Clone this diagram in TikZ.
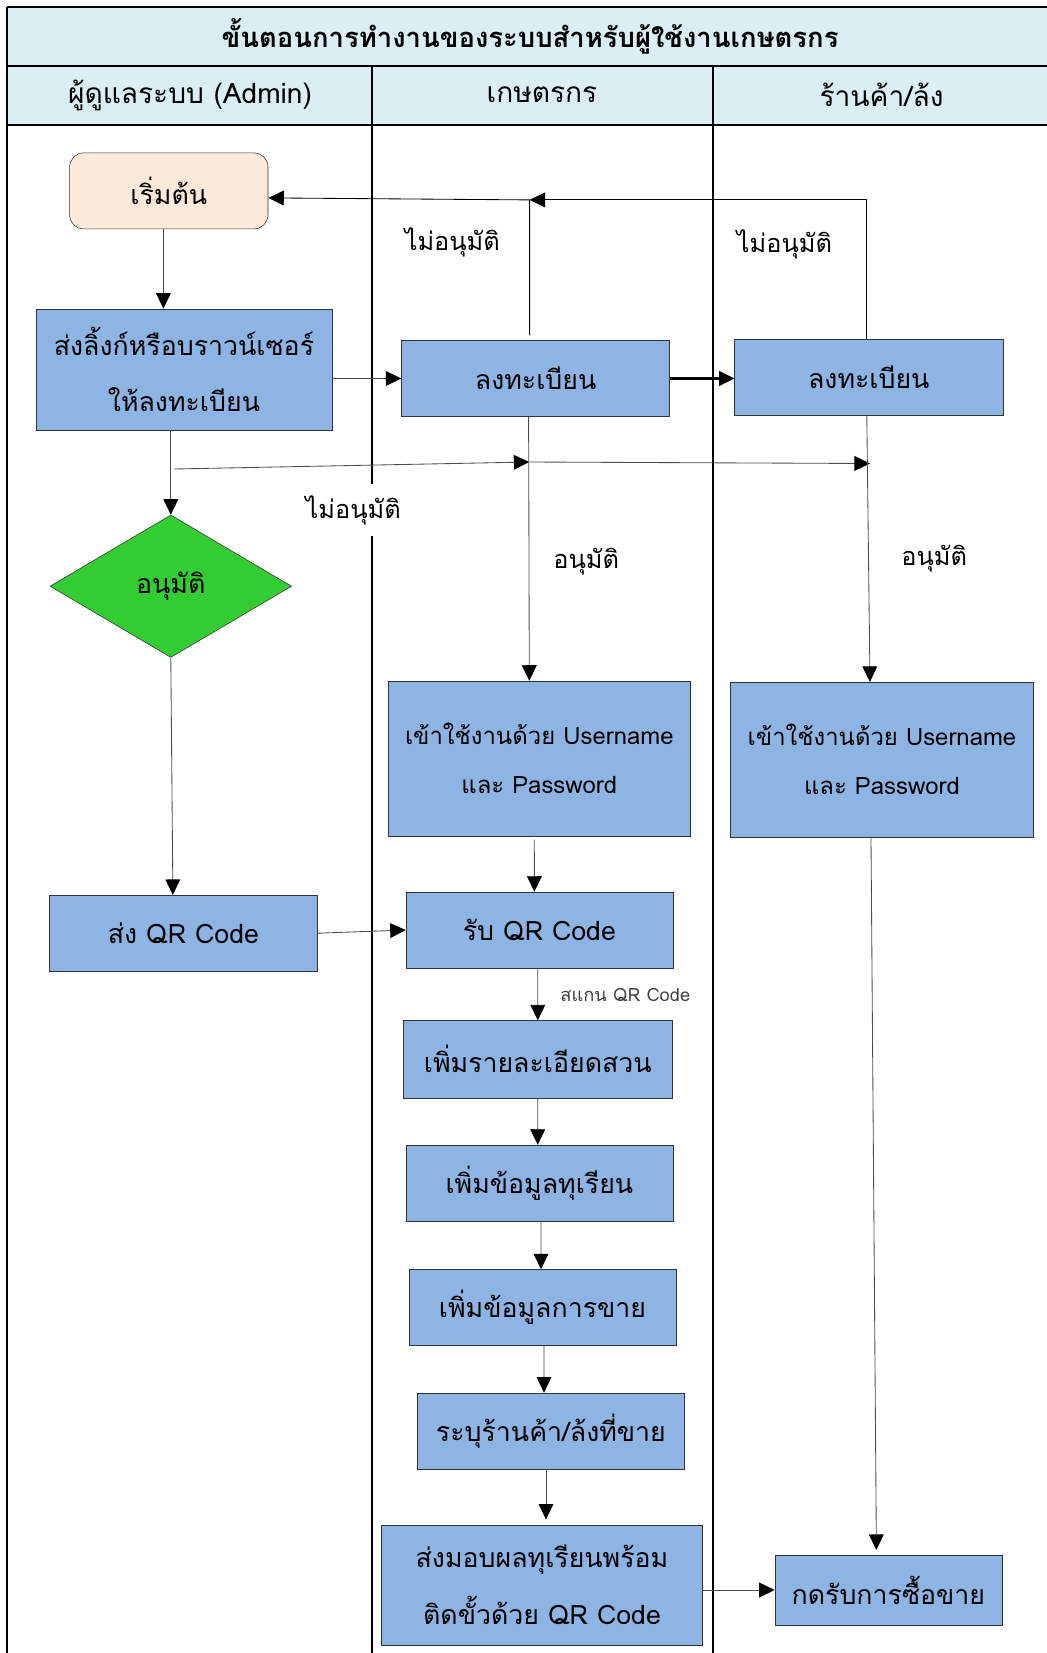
\documentclass[tikz,border=0pt]{standalone}
\usepackage{fontspec}
\setmainfont[Script=Thai]{Loma}
\usetikzlibrary{arrows.meta,calc,shapes.geometric}
\definecolor{headblue}{RGB}{218,238,243}
\definecolor{boxblue}{RGB}{142,180,227}
\definecolor{okgreen}{RGB}{51,204,51}
\definecolor{startpeach}{RGB}{253,233,217}
\def\boxfont{\fontsize{19}{40}\selectfont}
\def\loginfont{\fontsize{17}{35}\selectfont}
\def\notefont{\fontsize{18}{22}\selectfont}
\tikzset{
	flowbox/.style={draw=black!80, fill=boxblue, inner sep=0pt, align=center, font=\boxfont},
	flowarrow/.style={draw=black!70, line width=0.6pt, -{Triangle[length=11pt,width=10.5pt,color=black]}},
	lane/.style={line width=1.5pt},
	note/.style={font=\notefont, inner sep=1pt}
}

\begin{document}
\begin{tikzpicture}[x=0.025cm, y=-0.025cm]
				\useasboundingbox (0,0) rectangle (1047,1653);
				
				% title and lane headers
				\fill[headblue] (7.3,7.3) rectangle (1047,124.7);
				\draw[lane] (7.3,7.3) -- (1047,7.3);
				\draw[lane] (7.3,65.7) -- (1047,65.7);
				\draw[lane] (7.3,124.7) -- (1047,124.7);
				\draw[lane] (7.3,7.3) -- (7.3,1653);
				\draw[lane] (372,65.7) -- (372,1653);
				\draw[lane] (713,65.7) -- (713,1653);
				\node (title) at (530,36) {\fontsize{19.5}{24}\selectfont\bfseries ขั้นตอนการทำงานของระบบสำหรับผู้ใช้งานเกษตรกร};
				\node (hadmin) at (190,95) {\fontsize{20}{24}\selectfont ผู้ดูแลระบบ (Admin)};
				\node (hfarmer) at (542,95) {\fontsize{20}{24}\selectfont เกษตรกร};
				\node (hshop) at (881.5,95) {\fontsize{20}{24}\selectfont ร้านค้า/ล้ง};
				
				% admin lane
				\node[flowbox, fill=startpeach, rounded corners=10pt, minimum width=4.96cm, minimum height=1.9cm] (start) at (168.8,190.9) {เริ่มต้น};
				\node[flowbox, minimum width=7.4cm, minimum height=3.03cm] (link) at (184,369.5) {ส่งลิ้งก์หรือบราวน์เซอร์\\ให้ลงทะเบียน};
				\node[flowbox, diamond, fill=okgreen, minimum width=6.04cm, minimum height=3.56cm] (approve) at (170.8,586.2) {อนุมัติ};
				\node[flowbox, minimum width=6.7cm, minimum height=1.9cm] (sendqr) at (183.5,933.2) {ส่ง QR Code};
				
				% farmer lane
				\node[flowbox, minimum width=6.7cm, minimum height=1.9cm] (regfarmer) at (535.6,378.5) {ลงทะเบียน};
				\node[flowbox, font=\loginfont, minimum width=7.57cm, minimum height=3.88cm] (loginfarmer) at (539.3,758.6) {เข้าใช้งานด้วย Username\\และ Password};
				\node[flowbox, minimum width=6.67cm, minimum height=1.9cm] (recvqr) at (539.4,930) {รับ QR Code};
				\node[flowbox, minimum width=6.7cm, minimum height=1.93cm] (garden) at (537.8,1059.2) {เพิ่มรายละเอียดสวน};
				\node[flowbox, minimum width=6.67cm, minimum height=1.9cm] (durian) at (539.4,1183) {เพิ่มข้อมูลทุเรียน};
				\node[flowbox, minimum width=6.67cm, minimum height=1.9cm] (sale) at (542.5,1307.5) {เพิ่มข้อมูลการขาย};
				\node[flowbox, minimum width=6.67cm, minimum height=1.9cm] (pickshop) at (550.9,1430.9) {ระบุร้านค้า/ล้งที่ขาย};
				\node[flowbox, minimum width=8.01cm, minimum height=3cm] (deliver) at (542,1584.8) {ส่งมอบผลทุเรียนพร้อม\\ติดขั้วด้วย QR Code};
				
				% shop lane
				\node[flowbox, minimum width=6.7cm, minimum height=1.9cm] (regshop) at (868.8,377.5) {ลงทะเบียน};
				\node[flowbox, font=\loginfont, minimum width=7.57cm, minimum height=3.88cm] (loginshop) at (882,759.7) {เข้าใช้งานด้วย Username\\และ Password};
				\node[flowbox, minimum width=5.67cm, minimum height=1.74cm] (accept) at (888.4,1590) {กดรับการซื้อขาย};
				
				% labels
				\node[note] (noa) at (452.3,242.5) {ไม่อนุมัติ};
				\node[note] (nob) at (784.5,244.6) {ไม่อนุมัติ};
				\node[note] (yesa) at (586.2,562) {อนุมัติ};
				\node[note] (yesb) at (934.2,558.8) {อนุมัติ};
				\node[font=\fontsize{13}{16}\selectfont, text=black!75] (scan) at (625.3,995.4) {สแกน QR Code};
				
				% connectors
				\draw[flowarrow] ($(start.south)+(-5.4,0)$) coordinate (s1) -- (s1 |- link.north);
				\draw[flowarrow] (regfarmer.west -| link.east) -- (regfarmer.west);
				\draw[flowarrow, line width=1.6pt, draw=black] (regfarmer.east) -- (regfarmer.east -| regshop.west);
				\coordinate (backjoin) at ($(regfarmer.north |- start.east)+(-6,9)$);
				\draw[flowarrow, draw=black] ($(regfarmer.north)+(-6,-5)$) -- (backjoin) -- ($(start.east)+(0,7)$);
				\draw[flowarrow, draw=black] ($(regshop.north)+(-2,0)$) |- (backjoin);
				\draw[flowarrow] (approve.north |- link.south) -- (approve.north);
				\coordinate (no1) at (174,469);
				\coordinate (no2) at (529.3,462);
				\coordinate (no3) at (869.9,463.5);
				\draw[flowarrow] (no1) -- (no2);
				\draw[flowarrow] (no2) -- (no3);
				\draw[flowarrow] ($(regfarmer.south)+(-7,0)$) -- ($(loginfarmer.north)+(-10,0)$);
				\draw[flowarrow] ($(regshop.south)+(-2,0)$) -- ($(loginshop.north)+(-12,0)$);
				\draw[flowarrow] (approve.south) -- ($(sendqr.north)+(-10.6,0)$);
				\draw[flowarrow] (sendqr.east) -- (recvqr.west);
				\draw[flowarrow] ($(loginfarmer.south)+(-5,3)$) -- ($(recvqr.north)+(-5,0)$);
				\draw[flowarrow] ($(recvqr.south)+(-1.7,0)$) -- ($(garden.north)+(0,0)$);
				\draw[flowarrow] (garden.south) -- ($(durian.north)+(-1.7,0)$);
				\draw[flowarrow] ($(durian.south)+(1.6,0)$) -- ($(sale.north)+(-1.5,0)$);
				\draw[flowarrow] ($(sale.south)+(1.5,0)$) -- ($(pickshop.north)+(-6.9,0)$);
				\draw[flowarrow] ($(pickshop.south)+(-4.9,0)$) -- ($(deliver.north)+(4,-5)$);
				\draw[flowarrow] (deliver.east |- accept.west) -- (accept.west);
				\draw[flowarrow] ($(loginshop.south)+(-11,0)$) -- ($(accept.north)+(-12,-5)$);
				
				% gap in the lane line behind this label
				\node[note, fill=white, inner ysep=8pt] (noc) at (353.2,510.3) {ไม่อนุมัติ};
			\end{tikzpicture}
\end{document}
